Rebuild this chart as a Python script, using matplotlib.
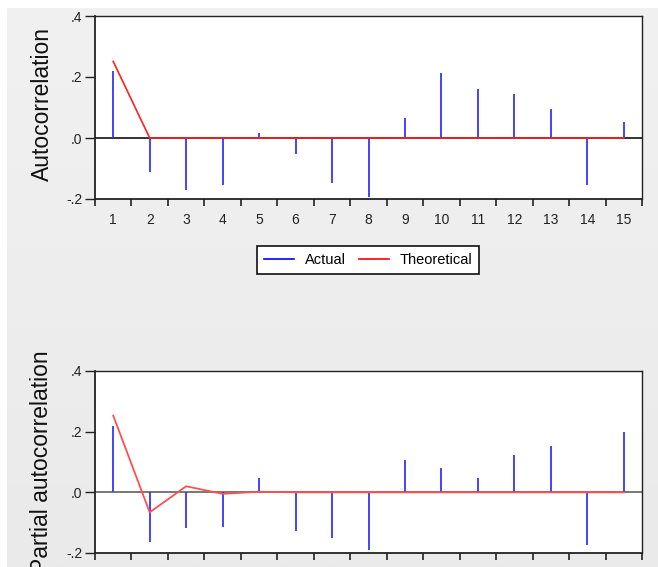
import numpy as np
import matplotlib
matplotlib.use("Agg")
import matplotlib.pyplot as plt
from matplotlib.lines import Line2D

plt.rcParams['font.family'] = ['Liberation Sans', 'DejaVu Sans']

lags = list(range(1, 16))
tick_labels = [str(i) for i in lags]
acf_actual = [0.219, -0.110, -0.170, -0.154, 0.018, -0.054, -0.149, -0.195,
              0.067, 0.212, 0.161, 0.143, 0.094, -0.154, 0.052]
acf_theoretical = [0.251, 0.0, 0.0, 0.0, 0.0, 0.0, 0.0, 0.0,
                   0.0, 0.0, 0.0, 0.0, 0.0, 0.0, 0.0]
pacf_actual = [0.220, -0.165, -0.118, -0.115, 0.046, -0.129, -0.152, -0.190,
               0.108, 0.080, 0.046, 0.124, 0.154, -0.173, 0.200]
pacf_theoretical = [0.253, -0.066, 0.020, -0.005, 0.002, 0.0, 0.0, 0.0,
                    0.0, 0.0, 0.0, 0.0, 0.0, 0.0, 0.0]
ytick_vals = [-0.2, 0.0, 0.2, 0.4]
ytick_labels = ['-.2', '.0', '.2', '.4']

W, H = 658, 567
fig = plt.figure(figsize=(W / 100, H / 100), dpi=100)
fig.patch.set_facecolor('white')

# gray gradient background (leaving thin white border at left/top)
bg = fig.add_axes([7 / W, 0, 1 - 7 / W, 1 - 8 / H])
grad = np.linspace(0, 1, 256).reshape(-1, 1)
from matplotlib.colors import LinearSegmentedColormap
cmap = LinearSegmentedColormap.from_list('g', ['#f1f1f1', '#eaeaea'])
bg.imshow(grad, aspect='auto', cmap=cmap, extent=[0, 1, 0, 1], origin='upper')
bg.set_axis_off()
bg.set_zorder(-10)


def make_panel(rect, actual, theo, ylabel, zero_col, red_col, red_lw):
    ax = fig.add_axes(rect)
    ax.set_facecolor('white')
    ax.set_xlim(0.5, 15.5)
    ax.set_ylim(-0.2, 0.4)
    ax.axhline(0, color=zero_col, lw=1.2, zorder=2)
    ax.vlines(lags, 0, actual, color='#3535ff', lw=1.3, zorder=3)
    ax.plot(lags, theo, color=red_col, lw=red_lw, zorder=4)
    ax.set_yticks(ytick_vals)
    ax.set_yticklabels(ytick_labels, fontsize=10, color='#222222')
    ax.set_xticks(np.arange(0.5, 16, 1.0))
    ax.set_xticklabels([])
    ax.set_xticks(lags, minor=True)
    ax.set_xticklabels(tick_labels, minor=True, fontsize=10, color='#222222')
    ax.tick_params(axis='x', which='major', length=5, width=1.2, direction='out', color='#222222')
    ax.tick_params(axis='x', which='minor', length=0, pad=10)
    ax.tick_params(axis='y', length=7, width=1, direction='out', pad=2, color='#222222')
    for s in ax.spines.values():
        s.set_color('#222222')
        s.set_linewidth(1.0)
    ax.spines['left'].set_linewidth(1.3)
    ax.spines['bottom'].set_linewidth(1.3)
    return ax


ax1 = make_panel([95 / W, 1 - 199 / H, (642 - 95) / W, (199 - 16) / H],
                 acf_actual, acf_theoretical, 'Autocorrelation', '#111111', '#ff2020', 1.2)
ax2 = make_panel([95 / W, 1 - 553 / H, (642 - 95) / W, (553 - 371) / H],
                 pacf_actual, pacf_theoretical, 'Partial autocorrelation', '#606060', '#ff5050', 1.3)

fig.text(42 / W, 1 - 104 / H, 'Autocorrelation', rotation=90, ha='center', va='center',
         fontsize=16.5, color='#111111')
fig.text(42 / W, 1 - 462 / H, 'Partial autocorrelation', rotation=90, ha='center', va='center',
         fontsize=16.5, color='#111111')

handles = [Line2D([], [], color='#0000ff', lw=1.2), Line2D([], [], color='#ff0000', lw=1.2)]
leg = fig.legend(handles, ['Actual', 'Theoretical'], loc='center',
                 bbox_to_anchor=(368 / W, 1 - 260 / H), ncol=2, fontsize=10.5,
                 frameon=True, fancybox=False, edgecolor='#222222', framealpha=1,
                 handlelength=2.1, handletextpad=0.7, columnspacing=0.9,
                 borderpad=0.45, borderaxespad=0)
leg.get_frame().set_linewidth(1.3)

fig.savefig('out.png', dpi=100)
